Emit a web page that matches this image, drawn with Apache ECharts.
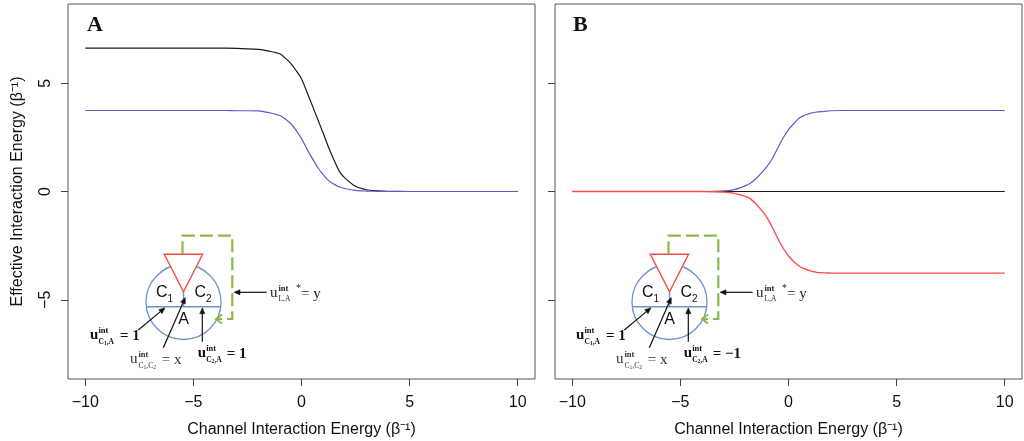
<!DOCTYPE html>
<html><head><meta charset="utf-8">
<script src="https://cdn.jsdelivr.net/npm/echarts@6/dist/echarts.min.js"></script>
<style>html,body{margin:0;padding:0;background:#fff}#c{width:1024px;height:441px}</style>
</head><body><div id="c"></div>
<script>
// ---- data ----
const xValues = [-10,-8,-6,-5,-4,-3.5,-3,-2.5,-2,-1.75,-1.5,-1.25,-1,-0.75,-0.5,-0.25,0,0.25,0.5,0.75,1,1.25,1.5,1.75,2,2.5,3,3.5,4,5,6,8,10];
const aBlack  = [6.62,6.62,6.62,6.62,6.62,6.62,6.61,6.59,6.56,6.53,6.48,6.43,6.36,6.16,5.92,5.59,5.20,4.60,3.97,3.34,2.70,2.04,1.46,0.93,0.63,0.24,0.08,0.03,0.01,0,0,0,0];
const aBlue   = [3.74,3.74,3.74,3.74,3.74,3.74,3.73,3.73,3.72,3.69,3.64,3.58,3.51,3.35,3.14,2.82,2.44,1.97,1.53,1.11,0.78,0.50,0.34,0.21,0.14,0.05,0.02,0.01,0,0,0,0,0];
const bBlack  = [0,0,0,0,0,0,0,0,0,0,0,0,0,0,0,0,0,0,0,0,0,0,0,0,0,0,0,0,0,0,0,0,0];
const bBlue   = [0,0,0,0,0,0.01,0.03,0.09,0.26,0.39,0.60,0.86,1.15,1.51,2.00,2.47,2.86,3.14,3.39,3.52,3.61,3.66,3.69,3.71,3.73,3.74,3.74,3.74,3.74,3.74,3.74,3.74,3.74];
const bRed    = [0,0,0,0,0,-0.01,-0.03,-0.09,-0.23,-0.35,-0.58,-0.86,-1.19,-1.65,-2.16,-2.61,-2.98,-3.24,-3.45,-3.57,-3.67,-3.72,-3.75,-3.76,-3.77,-3.77,-3.77,-3.77,-3.77,-3.77,-3.77,-3.77,-3.77];
const xTicks = [-10,-5,0,5,10];
const yTicks = [-5,0,5];
const panelLetters = ['A','B'];
const xName = 'Channel Interaction Energy (β⁻¹)';
const yName = 'Effective Interaction Energy (β⁻¹)';

const SANS = "'Liberation Sans', Arial, Helvetica, sans-serif";
const SERIF = "'Liberation Serif', 'Times New Roman', serif";
const fmt = v => v < 0 ? '\u2212' + Math.abs(v) : String(v);
const zip = ys => xValues.map((x,i) => [x, ys[i]]);

const BLACK = '#1a1a1a', BLUE = '#6459c4', RED = '#ff4a4a';
const grids = [
  {left:68, top:4, width:467, height:375, show:true, borderColor:'#555', borderWidth:1, backgroundColor:'transparent', containLabel:false, outerBoundsMode:'none'},
  {left:555, top:4, width:467, height:375, show:true, borderColor:'#555', borderWidth:1, backgroundColor:'transparent', containLabel:false, outerBoundsMode:'none'}
];
const xAxes = [0,1].map(i => ({
  gridIndex:i, type:'value', min:-10.8, max:10.8,
  axisLine:{show:false, onZero:false},
  splitLine:{show:false},
  axisTick:{show:true, length:7, customValues:xTicks, lineStyle:{color:'#444', width:1}},
  axisLabel:{customValues:xTicks, formatter:fmt, fontSize:16, fontFamily:SANS, color:'#111', margin:16},
  name:xName, nameLocation:'middle', nameGap:43,
  nameTextStyle:{fontSize:16, fontFamily:SANS, color:'#111'}
}));
const yAxes = [0,1].map(i => ({
  gridIndex:i, type:'value', min:-8.66, max:8.66,
  axisLine:{show:false, onZero:false},
  splitLine:{show:false},
  axisTick:{show:true, length:7, customValues:yTicks, lineStyle:{color:'#444', width:1}},
  axisLabel:{show:i===0, customValues:yTicks, formatter:fmt, rotate:90, fontSize:16, fontFamily:SANS, color:'#111', margin:14},
  name: i===0 ? yName : '', nameLocation:'middle', nameGap:42,
  nameTextStyle:{fontSize:16, fontFamily:SANS, color:'#111'}
}));
function line(name, xi, ys, color, z, w){
  return {name, type:'line', xAxisIndex:xi, yAxisIndex:xi, data:zip(ys), showSymbol:false, symbol:'none', z,
    smooth:0.3, lineStyle:{color, width:w||1.2}, silent:true, animation:false};
}
const series = [
  line('A black',0,aBlack,BLACK,2), line('A blue',0,aBlue,BLUE,3),
  line('B black',1,bBlack,BLACK,1,1.1), line('B blue',1,bBlue,BLUE,3), line('B red',1,bRed,RED,5,1.35)
];

// ---- inset diagrams (decoration) ----
const mctx = document.createElement('canvas').getContext('2d');
function measure(font, t){ mctx.font = font; return mctx.measureText(t).width; }
function txt(x,y,text,font,fill,align){
  return {type:'text', z:100, style:{x, y, text, font, fill:fill||'#111', textAlign:align||'left', align:align||'left', textVerticalAlign:'middle', verticalAlign:'middle'}};
}
function run(x, cy, pieces, bold, color, fam){
  const out = [];
  pieces.forEach(p => {
    const font = (bold ? 'bold ' : '') + p[1] + 'px ' + (fam || SERIF);
    out.push(txt(x, cy + (p[2]||0), p[0], font, color));
    x += measure(font, p[0]);
  });
  return out;
}
function arrow(x1,y1,x2,y2){
  const a = Math.atan2(y2-y1, x2-x1), c = Math.cos(a), s = Math.sin(a), L = 6, W = 2.6;
  const bx = x2 - L*c, by = y2 - L*s;
  return [
    {type:'line', z:100, shape:{x1, y1, x2:bx, y2:by}, style:{stroke:'#111', lineWidth:1.2}},
    {type:'polygon', z:100, shape:{points:[[x2,y2],[bx - W*s, by + W*c],[bx + W*s, by - W*c]]}, style:{fill:'#111', stroke:'#111', lineWidth:0.5}}
  ];
}
function uLab(x, cy, sub, rest, restX, bold, color, star){
  let out = [txt(x, cy-1, 'u', (bold ? 'bold ' : '') + '15px ' + SERIF, color),
             txt(x+8.5, cy-5.5, 'int', 'bold 8.5px ' + SERIF, color)];
  out = out.concat(run(x+8.5, cy+5.5, sub, bold, color));
  out = out.concat(run(restX, cy, [[rest, 15, 0]], bold, color));
  if (star) out.push(txt(x+26, cy-6, '*', '10px ' + SERIF, color));
  return out;
}
function inset(dx, c2val){
  const cx = 183.5 + dx, cy = 302, r = 37.5, blue = '#6f93c9';
  const chordY = 306.7, hw = Math.sqrt(r*r - (chordY-cy)*(chordY-cy));
  let els = [
    {type:'circle', z:100, shape:{cx, cy, r}, style:{fill:'none', stroke:blue, lineWidth:1.3}},
    {type:'line', z:100, shape:{x1:cx-hw, y1:chordY, x2:cx+hw, y2:chordY}, style:{stroke:blue, lineWidth:1.4}},
    {type:'line', z:100, shape:{x1:cx, y1:291.7, x2:cx, y2:chordY}, style:{stroke:blue, lineWidth:1.4}},
    {type:'polygon', z:101, shape:{points:[[164.3+dx,254.3],[202.6+dx,254.3],[cx,291.7]]}, style:{fill:'#fff', stroke:'#f24a3f', lineWidth:1.4}},
    {type:'polyline', z:101, shape:{points:[[182.5+dx,254.3],[182.5+dx,235.7],[232.3+dx,235.7],[232.3+dx,319],[218+dx,319]]},
      style:{fill:'none', stroke:'#8cb84c', lineWidth:2.2, lineDash:[13,5]}},
    {type:'polyline', z:101, shape:{points:[[222+dx,314.5],[216+dx,319],[222+dx,323.5]]}, style:{fill:'none', stroke:'#8cb84c', lineWidth:2}},
    txt(cx, 271.5, 'L', '15.5px ' + SANS, '#111', 'center'),
    txt(cx, 319.5, 'A', '16px ' + SANS, '#111', 'center')
  ];
  els = els.concat(run(156+dx, 292.5, [['C',16,0],['1',10,6.5]], false, '#111', SANS));
  els = els.concat(run(194.5+dx, 292.5, [['C',16,0],['2',10,6.5]], false, '#111', SANS));
  els = els.concat(arrow(266.7+dx,292.3,234+dx,292.3));
  els = els.concat(arrow(138.3+dx,330,165+dx,307.8));
  els = els.concat(arrow(163.3+dx,347.7,185.3+dx,297.5));
  els = els.concat(arrow(202.3+dx,341.7,202.3+dx,307.8));
  els = els.concat(uLab(270+dx, 294, [['L,A',7.5,0]], '= y', 301+dx, false, '#222', true));
  els = els.concat(uLab(90+dx, 336.5, [['C',7.5,0],['1',5.5,1.8],[',A',7.5,0]], '= 1', 120+dx, true, '#111'));
  els = els.concat(uLab(130+dx, 360.5, [['C',7.5,0],['1',5.5,1.8],[',C',7.5,0],['2',5.5,1.8]], '= x', 161.7+dx, false, '#333'));
  els = els.concat(uLab(197.7+dx, 354.5, [['C',7.5,0],['2',5.5,1.8],[',A',7.5,0]], '= ' + c2val, 226.7+dx, true, '#111'));
  return els;
}
const graphics = [
  txt(87, 25, panelLetters[0], 'bold 22px ' + SERIF, '#111'),
  txt(573, 25, panelLetters[1], 'bold 22px ' + SERIF, '#111')
].concat(inset(0, '1')).concat(inset(486, '\u22121'));

const chart = echarts.init(document.getElementById('c'), null, {renderer:'canvas'});
chart.setOption({
  animation:false, backgroundColor:'#fff',
  grid:grids, xAxis:xAxes, yAxis:yAxes, series, graphic:graphics
});
</script></body></html>
